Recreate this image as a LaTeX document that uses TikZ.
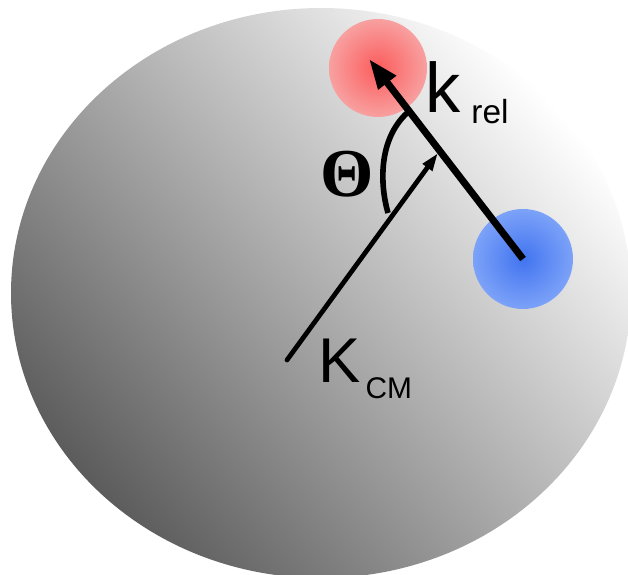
\documentclass[tikz,border=0pt]{standalone}
\usepackage{fontspec}
\usepackage{xcolor}
\usepackage{tikz}
\usetikzlibrary{arrows.meta, positioning, shapes.geometric}

\newfontfamily\labelfont{Liberation Sans}
\newfontfamily\anglefont{Liberation Serif}

\definecolor{redcore}{RGB}{252,92,92}
\definecolor{redrim}{RGB}{248,160,160}
\definecolor{bluecore}{RGB}{66,116,240}
\definecolor{bluerim}{RGB}{124,162,248}

\begin{document}
\begin{tikzpicture}[
  x=0.02cm, y=-0.02cm,
  particle/.style={circle, inner sep=0pt, minimum size=1.96cm},
  vec/.style={draw=black},
  lbl/.style={inner sep=0pt, anchor=base west},
]
  \useasboundingbox (0,0) rectangle (628,574);
  % cloud
  \shade[top color=white, middle color=black!22, bottom color=black!64, shading angle=-48]
    (321,293) ellipse [x radius=310, y radius=285];

  % particles
  \node[particle, inner color=redcore, outer color=redrim] (target) at (378,68) {};
  \node[particle, minimum size=2cm, inner color=bluecore, outer color=bluerim] (projectile) at (523,259) {};

  \coordinate (relhead) at (369,59);
  \coordinate (cmtail) at (287,360);
  \coordinate (cmhead) at (438,153);
  \coordinate (arcbot) at (388,213);
  \coordinate (arctop) at (407,113);

  \draw[vec, line width=4pt, -{Triangle[length=0.6cm, width=0.42cm]}] (projectile.center) -- (relhead);
  \draw[vec, line width=2.7pt, line cap=round, -{Triangle[length=0.36cm, width=0.22cm]}] (cmtail) -- (cmhead);
  \draw[line width=3.2pt] (arcbot) .. controls (380,185) and (378,140) .. (arctop);

  % labels
  \node[lbl, font=\labelfont\fontsize{40}{40}\selectfont] (krel) at (425,113)
    {k\hspace{0.22cm}\raisebox{-0.22cm}{\fontsize{19}{19}\selectfont rel}};
  \node[lbl, font=\labelfont\fontsize{36}{36}\selectfont] (kcm) at (318,382)
    {K\hspace{0.1cm}\raisebox{-0.32cm}{\fontsize{17}{17}\selectfont CM}};
  \node[inner sep=0pt, font=\anglefont\bfseries\fontsize{39}{39}\selectfont] (theta) at (347,174) {Θ};
\end{tikzpicture}
\end{document}
